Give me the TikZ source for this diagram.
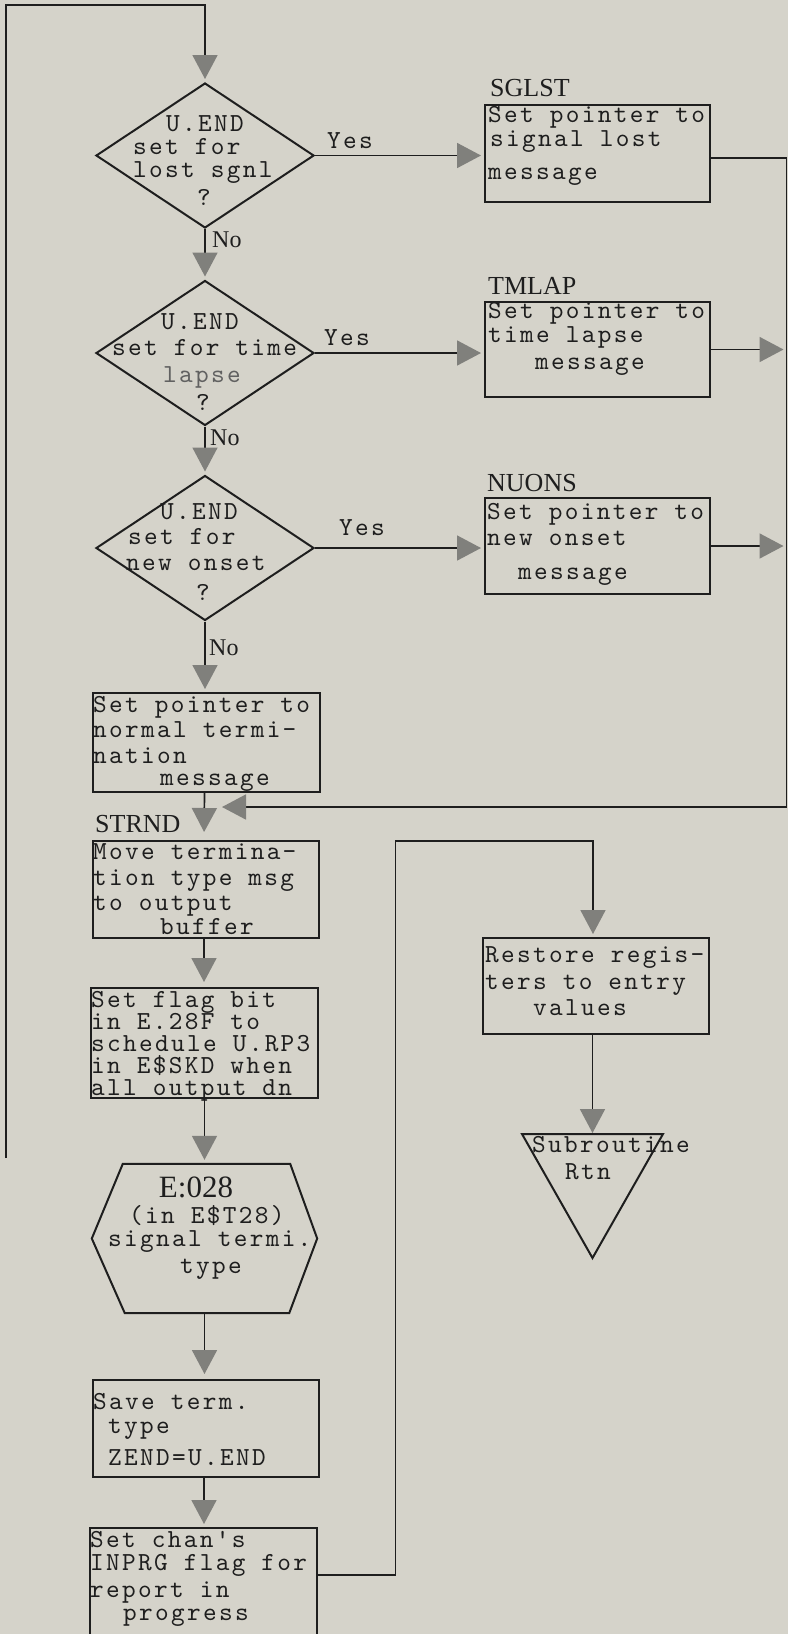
\documentclass[tikz,border=0pt]{standalone}
\usepackage{fontspec}
\setmainfont{Liberation Serif}
\newfontfamily\twfam{lmmono10-regular.otf}[LetterSpace=9]
\usetikzlibrary{arrows.meta,shapes.geometric,calc}
\definecolor{paper}{RGB}{213,211,202}
\definecolor{ink}{RGB}{30,30,30}
\definecolor{arrowgray}{RGB}{128,128,124}
\newcommand\mytx[4]{\node[tx] (#1) at (#2,#3) {#4};}
\newcommand\mylb[4]{\node[lb] (#1) at (#2,#3) {#4};}
\newcommand\twfont{\twfam\fontsize{26}{26}\selectfont}
\begin{document}
\begin{tikzpicture}[x=1pt,y=-1pt,
  box/.style={draw=ink, line width=2pt, rectangle, inner sep=0pt},
  dia/.style={draw=ink, line width=2pt, diamond, inner sep=0pt, minimum width=218pt, minimum height=145pt},
  conn/.style={draw=ink, line width=1.7pt},
  arr/.style={conn, -{Triangle[length=24pt,width=25pt,color=arrowgray]}, shorten >=3pt},
  tx/.style={anchor=base west, inner sep=0pt, text=ink, font=\twfont},
  lb/.style={anchor=base west, inner sep=0pt, text=ink, font=\fontsize{26}{26}\selectfont},
  nol/.style={anchor=base west, inner sep=0pt, text=ink, font=\fontsize{24}{24}\selectfont},
  outline/.style={draw=ink, line width=2pt, line join=miter}
]
\fill[paper] (0,0) rectangle (788,1634);
\useasboundingbox (0,0) rectangle (788,1634);

% ---------- decision diamonds ----------
\node[dia] (d1) at (205,155.5) {};
\node[dia] (d2) at (205,353) {};
\node[dia] (d3) at (205,548) {};

% ---------- process boxes ----------
\node[box, minimum width=225pt, minimum height=97pt] (sglst) at (597.5,153.5) {};
\node[box, minimum width=225pt, minimum height=95pt] (tmlap) at (597.5,349.5) {};
\node[box, minimum width=225pt, minimum height=96pt] (nuons) at (597.5,546) {};
\node[box, minimum width=227pt, minimum height=99pt] (norm) at (206.5,742.5) {};
\node[box, minimum width=226pt, minimum height=97pt] (move) at (206,889.5) {};
\node[box, minimum width=227pt, minimum height=110pt] (flag) at (204.5,1043) {};
\node[minimum width=225pt, minimum height=149pt, inner sep=0pt] (hex) at (204.5,1238.5) {};
\node[box, minimum width=226pt, minimum height=97pt] (save) at (206,1428.5) {};
\node[box, minimum width=227pt, minimum height=120pt] (chan) at (203.5,1588) {};
\node[box, minimum width=226pt, minimum height=96pt] (restore) at (596,986) {};
\coordinate (tri) at (592.5,1134);

% hexagon (output)
\draw[outline] (hex.west) -- ($(hex.north west)+(31,0)$) -- ($(hex.north east)+(-27,0)$)
  -- (hex.east) -- ($(hex.south east)+(-28,0)$) -- ($(hex.south west)+(33,0)$) -- cycle;
% triangle (return)
\draw[outline] ($(tri)+(-70.5,0)$) -- ($(tri)+(70.5,0)$) -- ($(tri)+(0,124)$) -- cycle;

% ---------- connectors ----------
\coordinate (loopend) at (6,1158);
\coordinate (looptop) at (205,5);
\draw[arr] (loopend) |- (looptop) -- (d1.north);

\draw[arr] (d1.east) -- (d1.east -| sglst.west);
\draw[arr] (d2.east) -- (d2.east -| tmlap.west);
\draw[arr] (d3.east) -- (d3.east -| nuons.west);

\draw[arr] (d1.south) -- (d2.north);
\draw[arr] (d2.south) -- (d3.north);
\draw[arr] (d3.south) -- (d3.south |- norm.north);

\coordinate (rcorner) at (786.5,807);
\coordinate (merge) at (222,807);
\draw[arr, shorten >=0pt] ($(sglst.east)+(0,4.5)$) -| (rcorner) -- (merge);
\draw[arr] (tmlap.east) -- (tmlap.east -| rcorner);
\draw[arr] (nuons.east) -- (nuons.east -| rcorner);

\draw[arr, shorten >=8pt] ($(norm.south)+(-2,0)$) -- ($(move.north)+(-2,0)$);
\draw[arr, shorten >=5pt] ($(move.south)+(-2,0)$) -- ($(move.south |- flag.north)+(-2,0)$);
\draw[arr, shorten >=4pt] (flag.south) -- (hex.north);
\draw[arr, shorten >=5pt] (hex.south) -- (hex.south |- save.north);
\draw[arr] ($(save.south)+(-2,0)$) -- ($(save.south |- chan.north)+(-2,0)$);

\coordinate (chanout) at ($(chan.east)+(0,-13)$);
\coordinate (rl) at (395.5,841);
\draw[arr] (chanout) -| (rl) -| ($(restore.north)+(-3,0)$);
\draw[arr, shorten >=1pt] (tri |- restore.south) -- (tri);

% ---------- labels on connectors ----------
\mytx{y1}{327}{148}{Yes}
\mytx{y2}{324}{345}{Yes}
\mytx{y3}{339}{535}{Yes}
\node[nol] (n1) at (212,247) {No};
\node[nol] (n2) at (210,445) {No};
\node[nol] (n3) at (209,655) {No};

% ---------- entry labels ----------
\mylb{lsglst}{490}{96}{SGLST}
\mylb{ltmlap}{488}{294}{TMLAP}
\mylb{lnuons}{487}{491}{NUONS}
\mylb{lstrnd}{95}{832}{STRND}

% ---------- diamond texts ----------
\mytx{a1}{166}{131}{U.END}
\mytx{a2}{133}{154}{set for}
\mytx{a3}{133}{177}{lost sgnl}
\mytx{a4}{197}{205}{?}

\mytx{b1}{161}{329}{U.END}
\mytx{b2}{112}{355}{set for time}
\node[tx, text=ink!70] (b3) at (163,382) {lapse};
\mytx{b4}{196}{410}{?}

\mytx{c1}{160}{519}{U.END}
\mytx{c2}{128}{544}{set for}
\mytx{c3}{126}{570}{new onset}
\mytx{c4}{196}{600}{?}

% ---------- box texts ----------
\mytx{s1}{488}{122}{Set pointer to}
\mytx{s2}{490}{146}{signal lost}
\mytx{s3}{488}{179}{message}

\mytx{t1}{488}{318}{Set pointer to}
\mytx{t2}{488}{342}{time lapse}
\mytx{t3}{535}{369}{message}

\mytx{u1}{487}{519}{Set pointer to}
\mytx{u2}{487}{545}{new onset}
\mytx{u3}{518}{579}{message}

\mytx{v1}{93}{712}{Set pointer to}
\mytx{v2}{93}{737}{normal termi-}
\mytx{v3}{93}{763}{nation}
\mytx{v4}{160}{785}{message}

\mytx{m1}{93}{859}{Move termina-}
\mytx{m2}{93}{885}{tion type msg}
\mytx{m3}{93}{910}{to output}
\mytx{m4}{160}{934}{buffer}

\mytx{f1}{91}{1007}{Set flag bit}
\mytx{f2}{91}{1029}{in E.28F to}
\mytx{f3}{91}{1051}{schedule U.RP3}
\mytx{f4}{91}{1073}{in E\$SKD when}
\mytx{f5}{91}{1095}{all output dn}

\node[anchor=base, inner sep=0pt, text=ink, font=\fontsize{31}{31}\selectfont] (h1) at (196,1197) {E:028};
\mytx{h2}{129}{1223}{(in E\$T28)}
\mytx{h3}{108}{1246}{signal termi.}
\mytx{h4}{180}{1273}{type}

\mytx{w1}{93}{1409}{Save term.}
\mytx{w2}{108}{1433}{type}
\mytx{w3}{108}{1465}{ZEND=U.END}

\mytx{k1}{90}{1547}{Set chan's}
\mytx{k2}{90}{1570}{INPRG flag for}
\mytx{k3}{90}{1597}{report in}
\mytx{k4}{123}{1620}{progress}

\mytx{r1}{485}{962}{Restore regis-}
\mytx{r2}{485}{989}{ters to entry}
\mytx{r3}{533}{1015}{values}

\mytx{q1}{532}{1152}{Subroutine}
\mytx{q2}{565}{1179}{Rtn}
\end{tikzpicture}
\end{document}
